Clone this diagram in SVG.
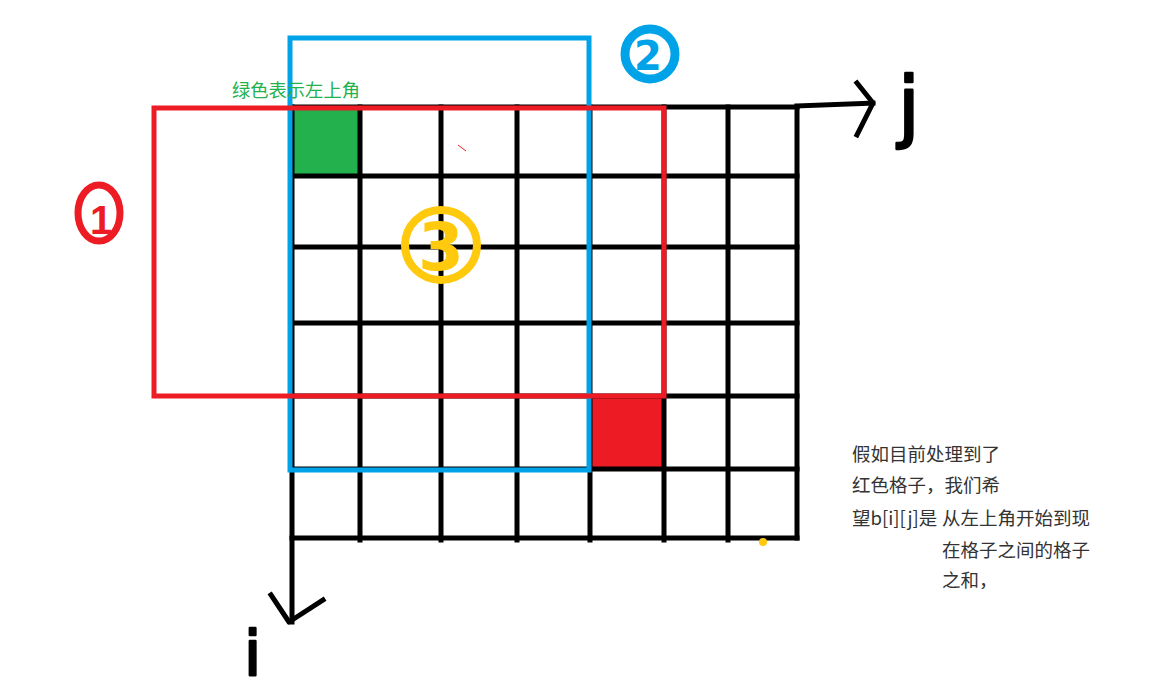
<svg xmlns="http://www.w3.org/2000/svg" width="1150" height="693" viewBox="0 0 1150 693">
<style>
.g{stroke:#000;stroke-width:5;fill:none;stroke-linecap:square}
.hand{fill:none;stroke-linecap:round;stroke-linejoin:round}
.cn{font-family:"Noto Sans CJK SC",sans-serif;font-size:18.5px;fill:#333}
.lt{font-family:"DejaVu Sans",sans-serif;font-weight:bold}
.hw{font-family:"DejaVu Sans",sans-serif;stroke:#000;stroke-width:2.5;stroke-linejoin:round}
</style>
<rect width="1150" height="693" fill="#fff"/>
<g id="cells">
<rect x="293" y="109" width="67" height="67" fill="#22b14c"/>
<rect x="590" y="396" width="73" height="73" fill="#ed1c24"/>
</g>
<g id="grid">
<path class="g" d="M292 107H797M292 176H797M292 247H797M292 323H797M292 396H797M292 469H797M292 538H797"/>
<path class="g" d="M360 107V540M441 107V540M517 107V540M590 107V540M664 107V540M728 107V540M797 107V538"/>
</g>
<g id="axes">
<path class="g" d="M292 107V622" stroke-linecap="round"/>
<path class="g" d="M271 595L289 622L323 600" stroke-linecap="round" stroke-linejoin="round"/>
<path class="g" d="M797 106L873 103" stroke-linecap="round"/>
<path class="g" d="M857 83L873 103L857 135" stroke-linecap="round" stroke-linejoin="round"/>
<text class="hw" x="898" y="133" font-size="78">j</text>
<text class="hw" x="244" y="675" font-size="62">i</text>
</g>
<g id="region2">
<rect x="290" y="38" width="299" height="432" fill="none" stroke="#00a2e8" stroke-width="5"/>
</g>
<g id="region1">
<rect x="154" y="108" width="510" height="288" fill="none" stroke="#ed1c24" stroke-width="5"/>
</g>
<g id="label1">
<ellipse class="hand" cx="99" cy="213" rx="21" ry="28" stroke="#ed1c24" stroke-width="7"/>
<text x="101" y="234" font-family="Liberation Sans,sans-serif" font-weight="bold" font-size="40" fill="#ed1c24" text-anchor="middle">1</text>
</g>
<g id="label2">
<circle class="hand" cx="650" cy="54" r="25" stroke="#00a2e8" stroke-width="9"/>
<text class="lt" x="648" y="70" font-size="40" fill="#00a2e8" text-anchor="middle">2</text>
</g>
<g id="label3">
<ellipse class="hand" cx="441" cy="245" rx="36" ry="35" stroke="#ffc90e" stroke-width="8"/>
<text class="lt" x="441" y="270" font-size="66" fill="#ffc90e" text-anchor="middle">3</text>
</g>
<g id="marks">
<path d="M458 145L466 151" stroke="#ed1c24" stroke-width="1" fill="none"/>
<circle cx="763" cy="542" r="4" fill="#ffc90e"/>
</g>
<g id="texts">
<text x="232" y="97" font-family="&quot;Noto Sans CJK SC&quot;,sans-serif" font-size="18.3" fill="#22b14c">绿色表示左上角</text>
<text class="cn" x="852" y="461">假如目前处理到了</text>
<text class="cn" x="852" y="492">红色格子，我们希</text>
<text class="cn" x="852" y="525">望b[i][j]是</text>
<text class="cn" x="942" y="525">从左上角开始到现</text>
<text class="cn" x="942" y="557">在格子之间的格子</text>
<text class="cn" x="942" y="587">之和，</text>
</g>
</svg>
